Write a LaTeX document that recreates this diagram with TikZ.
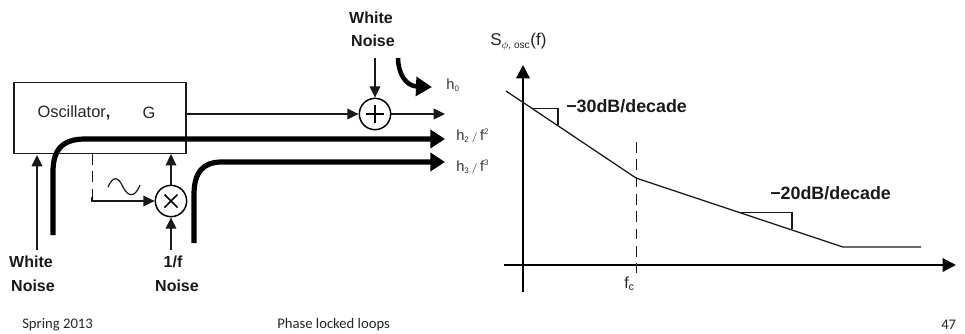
\documentclass[tikz,border=0pt]{standalone}
\usepackage{fontspec}
\setmainfont{Liberation Sans}
\newfontfamily\footfont{Carlito}
\usetikzlibrary{arrows.meta,calc}
\tikzset{
  x=0.75pt,y=-0.75pt,
  thinln/.style={line width=1.1pt,black!90},
  sigarrow/.style={thinln,-{Triangle[length=8.5pt,width=8pt]}},
  thickarrow/.style={line width=3.9pt,black,line cap=butt,-{Triangle[length=11pt,width=13.5pt]}},
  sumnode/.style={circle,draw=black,line width=1.1pt,minimum size=23.5pt,inner sep=0pt},
  lab/.style={inner sep=0pt,font=\fontsize{12pt}{13pt}\selectfont\bfseries,text=black!90},
  slope/.style={inner sep=0pt,anchor=west,font=\fontsize{13.4pt}{15pt}\selectfont\bfseries,text=black!90},
  plain/.style={inner sep=0pt,font=\fontsize{12.3pt}{14pt}\selectfont,text=black!85},
  hlab/.style={inner sep=0pt,font=\fontsize{11pt}{13pt}\selectfont,text=black!80},
  foot/.style={inner sep=0pt,anchor=west,font=\fontsize{11pt}{13pt}\footfont,text=black!85},
  trace/.style={line width=0.95pt,black!90},
  axisln/.style={line width=1.6pt,black,-{Triangle[length=10pt,width=10pt]}},
  dashln/.style={line width=0.7pt,black!90,dash pattern=on 8pt off 5pt},
}
\begin{document}
\begin{tikzpicture}
\useasboundingbox (0,0) rectangle (965,333);
% Oscillator block
\node[draw=black!90,line width=1.1pt,minimum width=129pt,minimum height=53pt,inner sep=0pt] (osc) at (100,118) {};
\node[plain] (osctxt) at (74,113) {Oscillator\textbf{,}};
\node[plain] (g) at (149,113) {G};
% adder and mixer
\node[sumnode] (add) at (375,114) {};
\draw[line width=1.1pt] ($(add)+(-9,0)$) -- ($(add)+(9,0)$) ($(add)+(0,-9)$) -- ($(add)+(0,9)$);
\node[sumnode] (mix) at (171,201) {};
\draw[line width=1.1pt] ($(mix)+(-6.5,-6.5)$) -- ($(mix)+(6.5,6.5)$) ($(mix)+(-6.5,6.5)$) -- ($(mix)+(6.5,-6.5)$);
% free ends
\coordinate (out1) at (445,114);
\coordinate (out2) at (445,139);
\coordinate (out3) at (445,162);
\coordinate (s2) at (53,235);
\coordinate (s3) at (194,243);
\coordinate (wn1) at (37,250);
\coordinate (wn1end) at (37,155);
\coordinate (fn) at (171,250);
\coordinate (wn2) at (375,58);
\coordinate (dash0) at (92,154);
\coordinate (dash1) at (92,201);
% labels
\node[lab] (wt) at (371,18) {White};
\node[lab] (wb) at (373,41) {Noise};
\node[lab] (w1t) at (31,262) {White};
\node[lab] (w1b) at (33,286) {Noise};
\node[lab] (ft) at (173,262) {1/f};
\node[lab] (fb) at (177,286) {Noise};
\node[hlab] (h0) at (453,85) {h\textsubscript{\fontsize{6}{7}\selectfont 0}};
\node[hlab,anchor=west] (h2) at (456,136) {h\textsubscript{\fontsize{6}{7}\selectfont 2}\,$\scriptstyle\slash$\,f\textsuperscript{\fontsize{6}{7}\selectfont 2}};
\node[hlab,anchor=west] (h3) at (456,167) {h\textsubscript{\fontsize{6}{7}\selectfont 3}\,$\scriptstyle\slash$\,f\textsuperscript{\fontsize{6}{7}\selectfont 3}};
% connectors
\draw[sigarrow] (osc.east |- add) -- (add.west);
\draw[sigarrow] (add.east) -- (out1);
\draw[sigarrow] (wn2) -- (add.north);
\draw[sigarrow] (wn1) -- (wn1end);
\draw[sigarrow] (mix.north) -- (mix.north |- osc.south);
\draw[sigarrow] (fn) -- (mix.south);
\draw[dashln] (dash0) -- ($(dash1)+(0,-4)$);
\draw[sigarrow] ($(dash1)+(0,-4)$) -- (dash1) -- (mix.west);
\draw[thickarrow] (s2) -- (53,172) .. controls (53,150) and (62,139) .. (85,139) -- (out2);
\draw[thickarrow] (s3) -- (194,195) .. controls (194,172) and (203,162) .. (222,162) -- (out3);
\draw[line width=3.4pt,-{Triangle[length=12pt,width=14pt]}] (398,58) .. controls (398,72) and (405,86) .. (432,87);
% sine symbol
\draw[line width=0.9pt,black!90] (108,187) .. controls (113,176) and (118,176) .. (123,187) .. controls (128,197) and (135,198) .. (140,185);
% spectrum
\coordinate (yb) at (523,292);
\coordinate (yt) at (523,65);
\coordinate (xl) at (504,265);
\coordinate (xr) at (956,265);
\draw[axisln] (yb) -- (yt);
\draw[axisln] (xl) -- (xr);
\coordinate (p0) at (506,91);
\coordinate (pc) at (636,178);
\coordinate (pk) at (843,247);
\coordinate (pe) at (921,247);
\draw[trace] (p0) -- (pc) -- (pk) -- (pe);
\draw[line width=0.8pt,black!90] (533,108.5) -- (558,108.5) -- (558,125);
\draw[line width=0.8pt,black!90] (740,212.5) -- (792,212.5) -- (792,229);
\coordinate (dt) at (636,142);
\coordinate (db) at (636,273);
\draw[dashln] (dt) -- (db);
\node[plain,anchor=west,font=\fontsize{12.8pt}{15pt}\selectfont] (sl) at (490,42) {S\textsubscript{\fontsize{7.6}{8}\selectfont $\phi$, osc}(f)};
\node[slope] (r1) at (566,106) {\textminus 30dB/decade};
\node[slope] (r2) at (770,193) {\textminus 20dB/decade};
\node[plain,anchor=west,font=\fontsize{12pt}{13pt}\selectfont] (fc) at (624,284) {f\textsubscript{\fontsize{8}{9}\selectfont c}};
% footer
\node[foot] (f1) at (22,325) {Spring 2013};
\node[foot] (f2) at (277,325) {Phase locked loops};
\node[foot] (f3) at (941,325) {47};
\end{tikzpicture}
\end{document}
